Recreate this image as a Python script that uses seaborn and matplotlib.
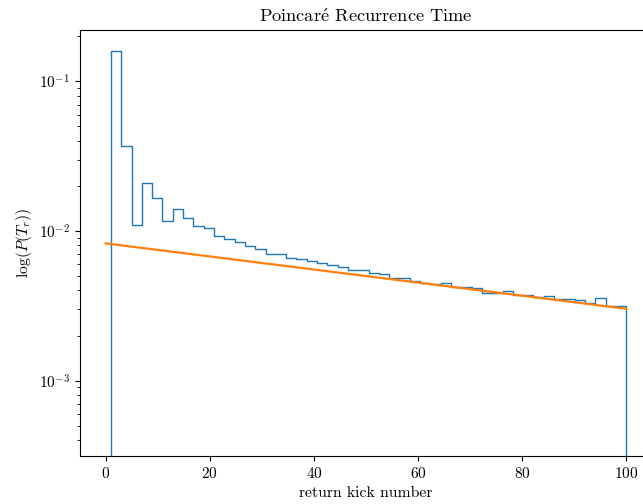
import numpy as np
import pandas as pd
import matplotlib
matplotlib.use("Agg")
import matplotlib.pyplot as plt
import seaborn as sns

# histogram of return times: 50 bins between kick 1 and kick 100
bin_edges = np.linspace(1, 100, 51)
prob = [0.159, 0.0371, 0.0110, 0.0210, 0.0165, 0.01172, 0.01402, 0.01217, 0.01073, 0.01047,
        0.00930, 0.00889, 0.00840, 0.00794, 0.00762, 0.00703, 0.00703, 0.00664, 0.00648, 0.00625,
        0.00609, 0.00595, 0.00575, 0.00547, 0.00547, 0.00522, 0.00518, 0.00483, 0.00488, 0.00461,
        0.00449, 0.00439, 0.00447, 0.00425, 0.00425, 0.00417, 0.00385, 0.00385, 0.00396, 0.00371,
        0.00371, 0.00361, 0.00368, 0.00351, 0.00349, 0.00343, 0.00331, 0.00357, 0.00317, 0.00315]

# exponential fit (straight on the log axis)
fit_x = [0, 100]
fit_y = [0.00826, 0.00302]

plt.rcParams['font.family'] = ['cmr10', 'DejaVu Serif']
plt.rcParams['mathtext.fontset'] = 'cm'
plt.rcParams['axes.unicode_minus'] = False
plt.rcParams['axes.formatter.use_mathtext'] = True
plt.rcParams['xtick.labelsize'] = 11
plt.rcParams['ytick.labelsize'] = 11

centers = (bin_edges[:-1] + bin_edges[1:]) / 2
df = pd.DataFrame({'kick': centers, 'p': prob})

fig = plt.figure(figsize=(6.43, 5.04), dpi=100)
ax = fig.add_axes([80 / 643, 48 / 504, 572 / 643, 426 / 504])

# filled step with no face -> outline drops to the baseline at both ends
sns.histplot(data=df, x='kick', weights='p', bins=list(bin_edges), element='step',
             fill=True, color='C0', linewidth=1.0, ax=ax)
poly = ax.collections[0]
poly.set_facecolor('none')
poly.set_edgecolor('C0')
sns.lineplot(x=fit_x, y=fit_y, color='C1', linewidth=1.6, ax=ax)

ax.set_yscale('log')
ax.set_xlim(-4.95, 104.95)
ax.set_ylim(10 ** -3.504, 10 ** -0.657)
ax.set_title('Poincar$\\acute{\\mathrm{e}}$ Recurrence Time', fontsize=13.2)
ax.set_xlabel('return kick number', fontsize=11.3)
ax.set_ylabel(r'$\log(P(T_r))$', fontsize=11.3)

plt.savefig('out.png', dpi=100)
